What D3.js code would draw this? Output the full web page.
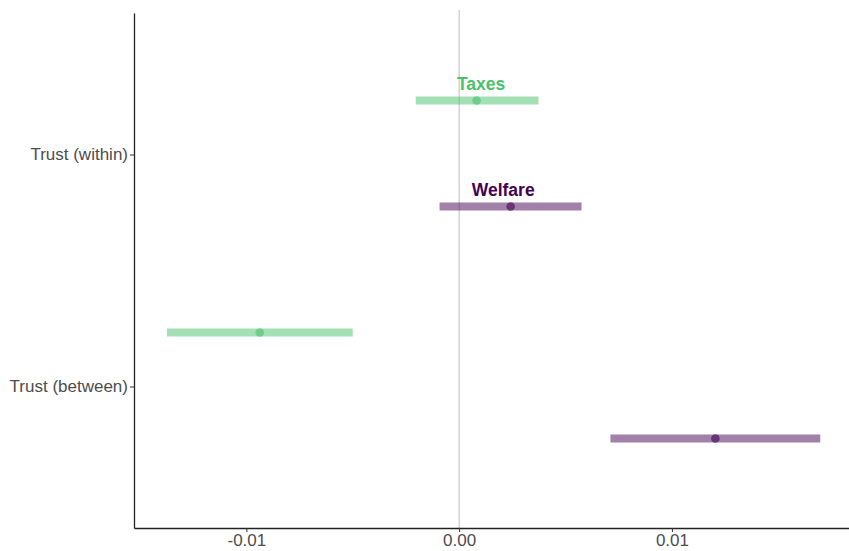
<!DOCTYPE html>
<html>
<head>
<meta charset="utf-8">
<script src="https://cdn.jsdelivr.net/npm/d3@7"></script>
<style>
  html, body { margin: 0; padding: 0; background: #fff; }
  svg { display: block; font-family: "Liberation Sans", Arial, sans-serif; }
</style>
</head>
<body>
<svg id="chart" width="849" height="551"></svg>
<script>
// Coefficient estimates with confidence intervals per predictor and outcome
const predictors = ["Trust (within)", "Trust (between)"];
const outcomes = ["Taxes", "Welfare"];
const outcomeColors = ["#4AC16D", "#440154"];

const taxesEstimate = [0.00082, -0.00937];
const taxesLower = [-0.00204, -0.01373];
const taxesUpper = [0.00373, -0.00500];

const welfareEstimate = [0.00242, 0.01204];
const welfareLower = [-0.00092, 0.00711];
const welfareUpper = [0.00575, 0.01697];

// Outcome labels sit above the "within" estimates
const labelX = [0.00103, 0.00207];

const xTicks = [-0.01, 0.00, 0.01];
const xDomain = [-0.01528, 0.01832];

const rows = [];
predictors.forEach((p, i) => {
  rows.push({ predictor: p, outcome: "Taxes", est: taxesEstimate[i], lo: taxesLower[i], hi: taxesUpper[i] });
  rows.push({ predictor: p, outcome: "Welfare", est: welfareEstimate[i], lo: welfareLower[i], hi: welfareUpper[i] });
});

const svg = d3.select("#chart");
const plot = { left: 134, right: 849, top: 10, bottom: 528 };

const x = d3.scaleLinear().domain(xDomain).range([plot.left, plot.right]);
const y = d3.scalePoint().domain(predictors).range([plot.top + 3, plot.bottom]).padding(0.61);
const dodge = d3.scalePoint().domain(outcomes).range([-54, 52]);
const color = d3.scaleOrdinal().domain(outcomes).range(outcomeColors);
const fmt = d => d3.format(".2f")(d).replace("\u2212", "-");

// zero reference line
svg.append("line")
  .attr("x1", x(0)).attr("x2", x(0))
  .attr("y1", plot.top).attr("y2", plot.bottom)
  .attr("stroke", "#bdbdbd").attr("stroke-width", 1);

// confidence intervals
svg.append("g").selectAll("line").data(rows).join("line")
  .attr("x1", d => x(d.lo)).attr("x2", d => x(d.hi))
  .attr("y1", d => y(d.predictor) + dodge(d.outcome))
  .attr("y2", d => y(d.predictor) + dodge(d.outcome))
  .attr("stroke", d => color(d.outcome))
  .attr("stroke-opacity", 0.5)
  .attr("stroke-width", 8);

// point estimates
svg.append("g").selectAll("circle").data(rows).join("circle")
  .attr("cx", d => x(d.est))
  .attr("cy", d => y(d.predictor) + dodge(d.outcome))
  .attr("r", 4.3)
  .attr("fill", d => color(d.outcome))
  .attr("fill-opacity", 0.6);

// outcome labels
svg.append("g").selectAll("text").data(outcomes).join("text")
  .attr("x", (d, i) => x(labelX[i]))
  .attr("y", d => y(predictors[0]) + dodge(d) - 11)
  .attr("text-anchor", "middle")
  .attr("font-size", 17.5)
  .attr("font-weight", "bold")
  .attr("fill", d => color(d))
  .text(d => d);

// axes
const xAxis = d3.axisBottom(x).tickValues(xTicks).tickFormat(fmt).tickSize(4).tickSizeOuter(0);
const gx = svg.append("g").attr("transform", `translate(0,${plot.bottom})`).call(xAxis);
gx.select(".domain").attr("stroke", "#222").attr("stroke-width", 1.3);
gx.selectAll(".tick line").attr("stroke", "#333");
gx.selectAll(".tick text").attr("fill", "#4d4d4d").attr("font-size", 17).attr("font-family", "Liberation Sans, Arial, sans-serif").attr("y", 4).attr("dy", "0.8em");

const yAxis = d3.axisLeft(y).tickSize(4).tickSizeOuter(0);
const gy = svg.append("g").attr("transform", `translate(${plot.left},0)`).call(yAxis);
gy.select(".domain").attr("stroke", "#222").attr("stroke-width", 1.3);
gy.selectAll(".tick line").attr("stroke", "#333");
gy.selectAll(".tick text").attr("fill", "#4d4d4d").attr("font-size", 17).attr("font-family", "Liberation Sans, Arial, sans-serif").attr("x", -6);
</script>
</body>
</html>
